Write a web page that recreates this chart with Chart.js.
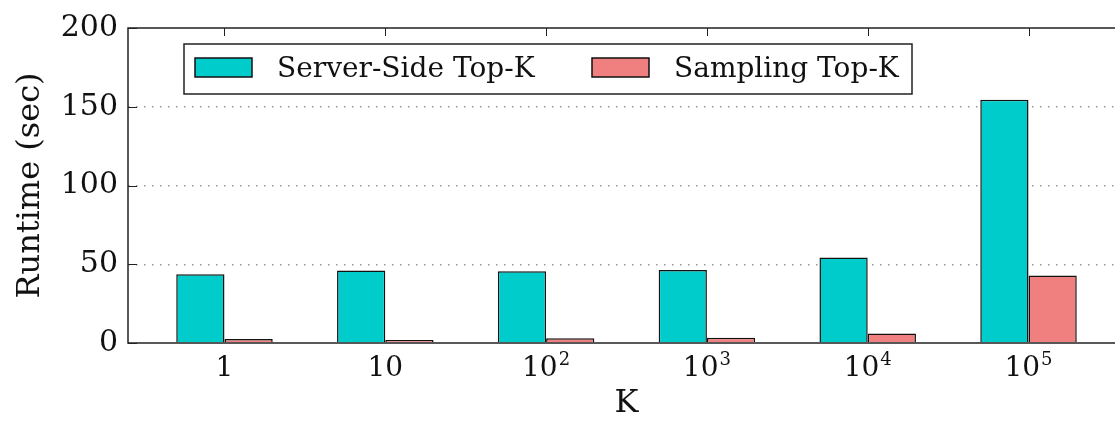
<!DOCTYPE html>
<html>
<head>
<meta charset="utf-8">
<script src="https://cdn.jsdelivr.net/npm/chart.js@4/dist/chart.umd.min.js"></script>
<style>
  html, body { margin: 0; padding: 0; background: #fff; }
  #wrap { width: 1115px; height: 423px; overflow: hidden; position: relative; }
  #wrap canvas { position: absolute; left: 0; top: 0; }
</style>
</head>
<body>
<div id="wrap"><canvas id="chart" width="1140" height="423"></canvas></div>
<script>
// K values on the x axis (base^exponent)
const categories = ["1", "10", "10^2", "10^3", "10^4", "10^5"];
const serverSide = [43.7, 46, 45.5, 46.3, 54.3, 154.5];
const sampling   = [2.5, 1.9, 3.0, 3.3, 6.1, 42.8];
const yTicks = [0, 50, 100, 150, 200];

const SERIF = "'DejaVu Serif', serif";

// frame, inward ticks, x labels with superscripts and the legend box
const framePlugin = {
    id: "frame",
    afterDraw(chart){
        const ctx = chart.ctx;
        const a = chart.chartArea;
        const xs = chart.scales.x, ys = chart.scales.y;
        ctx.save();
        ctx.strokeStyle = "#222";
        ctx.lineWidth = 1.5;
        ctx.strokeRect(a.left, a.top, a.right - a.left, a.bottom - a.top);

        ctx.lineWidth = 1;
        for(let v of yTicks){
            const y = Math.round(ys.getPixelForValue(v)) + 0.5;
            ctx.beginPath(); ctx.moveTo(a.left, y); ctx.lineTo(a.left + 9, y); ctx.stroke();
        }
        for(let i = 0; i < categories.length; i++){
            const x = Math.round(xs.getPixelForValue(i)) + 0.5;
            ctx.beginPath(); ctx.moveTo(x, a.top); ctx.lineTo(x, a.top + 8); ctx.stroke();
        }

        // x tick labels
        ctx.fillStyle = "#111";
        ctx.textBaseline = "alphabetic";
        ctx.textAlign = "left";
        const baseY = 376;
        for(let i = 0; i < categories.length; i++){
            const parts = categories[i].split("^");
            ctx.font = "28px " + SERIF;
            const w1 = ctx.measureText(parts[0]).width;
            let w2 = 0;
            if(parts[1]){
                ctx.font = "18px " + SERIF;
                w2 = ctx.measureText(parts[1]).width + 1;
            }
            const cx = xs.getPixelForValue(i);
            const x0 = cx - (w1 + w2) / 2;
            ctx.font = "28px " + SERIF;
            ctx.fillText(parts[0], x0, baseY);
            if(parts[1]){
                ctx.font = "18px " + SERIF;
                ctx.fillText(parts[1], x0 + w1 + 1, baseY - 11);
            }
        }

        // legend
        const bx = 184, by = 44, bw = 728, bh = 50;
        ctx.fillStyle = "#fff";
        ctx.fillRect(bx, by, bw, bh);
        ctx.lineWidth = 1.5;
        ctx.strokeStyle = "#222";
        ctx.strokeRect(bx, by, bw, bh);
        const items = [{x: 195, tx: 277}, {x: 592, tx: 674}];
        ctx.font = "28px " + SERIF;
        ctx.textBaseline = "middle";
        chart.data.datasets.forEach(function(ds, i){
            const it = items[i];
            ctx.fillStyle = ds.backgroundColor;
            ctx.fillRect(it.x, 58, 57, 19);
            ctx.strokeStyle = "#111";
            ctx.lineWidth = 1.5;
            ctx.strokeRect(it.x, 58, 57, 19);
            ctx.fillStyle = "#111";
            ctx.fillText(ds.label, it.tx, 70);
        });
        ctx.restore();
    }
};

new Chart(document.getElementById("chart").getContext("2d"), {
    type: "bar",
    data: {
        datasets: [{
            label: "Server-Side Top-K",
            data: serverSide.map(function(v, i){ return {x: i, y: v}; }),
            backgroundColor: "#00cccc",
            borderColor: "#111",
            borderWidth: 1.5,
            barPercentage: 1.0,
            categoryPercentage: 0.6
        }, {
            label: "Sampling Top-K",
            data: sampling.map(function(v, i){ return {x: i, y: v}; }),
            backgroundColor: "#f08080",
            borderColor: "#111",
            borderWidth: 1.5,
            barPercentage: 1.0,
            categoryPercentage: 0.6
        }]
    },
    options: {
        responsive: false,
        animation: false,
        layout: { padding: { top: 25, right: 15, left: 0, bottom: 0 } },
        plugins: { legend: { display: false }, tooltip: { enabled: false } },
        scales: {
            x: {
                type: "linear",
                offset: false,
                min: -0.6,
                max: 5.6,
                grid: { display: false, drawTicks: false },
                border: { display: false },
                afterBuildTicks: function(axis){
                    axis.ticks = categories.map(function(c, i){ return {value: i}; });
                },
                afterFit: function(axis){ axis.height = 80; },
                ticks: {
                    color: "rgba(0,0,0,0)",
                    font: { family: SERIF, size: 28 },
                    padding: 9,
                    maxRotation: 0,
                    autoSkip: false,
                    callback: function(v){ return categories[v]; }
                },
                title: {
                    display: true,
                    text: "K",
                    color: "#111",
                    font: { family: SERIF, size: 32 },
                    padding: { top: 0, bottom: 0 }
                }
            },
            y: {
                min: 0,
                max: 200,
                afterBuildTicks: function(axis){
                    axis.ticks = yTicks.map(function(v){ return {value: v}; });
                },
                afterFit: function(axis){ axis.width = 128; },
                grid: {
                    drawTicks: false,
                    color: function(c){ return (c.tick.value === 0 || c.tick.value === 200) ? "rgba(0,0,0,0)" : "#999"; },
                    lineWidth: 1.5
                },
                border: { display: false, dash: [1.5, 6.5] },
                ticks: {
                    color: "#111",
                    font: { family: SERIF, size: 30 },
                    padding: 10
                },
                title: {
                    display: true,
                    text: "Runtime (sec)",
                    color: "#111",
                    font: { family: SERIF, size: 32 },
                    padding: { top: 11, bottom: 0 }
                }
            }
        }
    },
    plugins: [framePlugin]
});
</script>
</body>
</html>
